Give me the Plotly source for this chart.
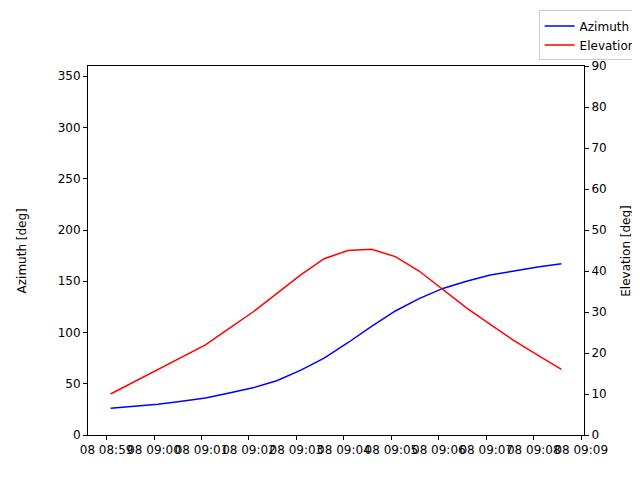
import plotly.graph_objects as go
import pandas as pd

times = [t.strftime("%Y-%m-%d %H:%M:%S") for t in pd.date_range("2024-01-08 08:59:05", periods=20, freq="30s")]
azimuth = [26, 28, 30, 33, 36, 41, 46, 53, 63, 75, 90, 106, 121, 133, 143, 150, 156, 160, 164, 167]
elevation = [10, 13, 16, 19, 22, 26, 30, 34.5, 39, 43, 45, 45.3, 43.5, 40, 35.5, 31, 27, 23, 19.5, 16]
tick_dt = pd.date_range("2024-01-08 08:59:00", periods=11, freq="1min")
tick_times = [t.strftime("%Y-%m-%d %H:%M:%S") for t in tick_dt]
tick_labels = [t.strftime("%d %H:%M") for t in tick_dt]

fig = go.Figure()
fig.add_trace(go.Scatter(x=times, y=azimuth, mode="lines", name="Azimuth",
                         line=dict(color="blue", width=1.5)))
fig.add_trace(go.Scatter(x=times, y=elevation, mode="lines", name="Elevation",
                         line=dict(color="red", width=1.5), yaxis="y2"))
ax = dict(showline=True, linecolor="black", linewidth=1, ticks="outside",
          ticklen=4, tickcolor="black", showgrid=False, zeroline=False,
          tickfont=dict(size=12, color="black"))
fig.update_layout(
    width=640, height=480, plot_bgcolor="white", paper_bgcolor="white",
    font=dict(family="DejaVu Sans", size=12, color="black"),
    margin=dict(l=80, r=64, t=58, b=53, autoexpand=False),
    xaxis=dict(**ax, mirror=True, tickvals=tick_times, ticktext=tick_labels, tickangle=0,
               type="date", range=["2024-01-08 08:58:36.5", "2024-01-08 09:09:03.5"]),
    yaxis=dict(**ax, range=[0, 360], dtick=50),
    yaxis2=dict(**ax, range=[0, 90], dtick=10, overlaying="y", side="right"),
    legend=dict(x=0.99, y=0.995, xref="container", yref="container", xanchor="right", yanchor="top",
                bordercolor="#cccccc", borderwidth=1, font=dict(size=12), bgcolor="white"),
    showlegend=True,
    annotations=[
        dict(text="Time", xref="paper", yref="paper", x=0.5, y=-0.115, showarrow=False,
             xanchor="center", yanchor="top", font=dict(size=12)),
        dict(text="Azimuth [deg]", xref="paper", yref="paper", x=-0.115, y=0.5, showarrow=False,
             textangle=-90, xanchor="right", yanchor="middle", font=dict(size=12)),
        dict(text="Elevation [deg]", xref="paper", yref="paper", x=1.065, y=0.5, showarrow=False,
             textangle=-90, xanchor="left", yanchor="middle", font=dict(size=12)),
    ],
)
fig.write_html("out.html")
